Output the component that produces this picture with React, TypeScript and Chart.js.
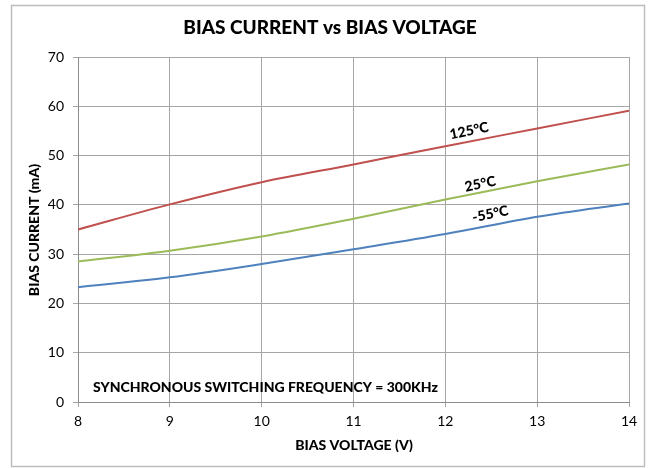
import React, { useEffect, useRef } from "react";
import { Chart, registerables } from "chart.js";

Chart.register(...registerables);

const voltages = [8, 9, 10, 11, 12, 13, 14];
const current125 = [35.0, 40.1, 44.6, 48.2, 51.9, 55.5, 59.1];
const current25 = [28.5, 30.7, 33.6, 37.2, 41.1, 44.8, 48.2];
const currentM55 = [23.3, 25.3, 28.0, 31.0, 34.1, 37.6, 40.3];
const seriesLabels = ["125°C", "25°C", "-55°C"];
const yTicks = [0, 10, 20, 30, 40, 50, 60, 70];

const FONT = "Lato, 'Open Sans', sans-serif";
const BOLD = "900";

const decorPlugin = {
  id: "decor",
  beforeDraw(chart: any) {
    const ctx = chart.ctx;
    ctx.save();
    ctx.fillStyle = "#ffffff";
    ctx.fillRect(0, 0, chart.width, chart.height);
    ctx.strokeStyle = "#bdbdbd";
    ctx.lineWidth = 1.5;
    ctx.strokeRect(11.5, 5.5, 633, 461);
    ctx.restore();
  },
  afterDraw(chart: any) {
    const ctx = chart.ctx;
    const xs = chart.scales.x;
    const ys = chart.scales.y;
    ctx.save();
    ctx.fillStyle = "#000000";
    ctx.textAlign = "center";
    ctx.textBaseline = "middle";
    ctx.font = `${BOLD} 19px ${FONT}`;
    ctx.fillText("BIAS CURRENT vs BIAS VOLTAGE", 330, 28);
    ctx.font = `${BOLD} 14px ${FONT}`;
    ctx.fillText("BIAS VOLTAGE (V)", 354, 445);
    ctx.save();
    ctx.translate(34, 230);
    ctx.rotate(-Math.PI / 2);
    ctx.fillText("BIAS CURRENT (mA)", 0, 0);
    ctx.restore();
    ctx.textAlign = "left";
    ctx.font = `${BOLD} 14px ${FONT}`;
    ctx.fillText("SYNCHRONOUS SWITCHING FREQUENCY = 300KHz", 93, 387);
    // series labels, rotated along curves
    const labelPos = [
      { v: 12.26, c: 55.0, a: -0.2 },
      { v: 12.38, c: 44.2, a: -0.2 },
      { v: 12.49, c: 38.1, a: -0.2 },
    ];
    ctx.textAlign = "center";
    ctx.font = `${BOLD} 14px ${FONT}`;
    labelPos.forEach((p, i) => {
      ctx.save();
      ctx.translate(xs.getPixelForValue(p.v), ys.getPixelForValue(p.c));
      ctx.rotate(p.a);
      ctx.fillText(seriesLabels[i], 0, 0);
      ctx.restore();
    });
    ctx.restore();
  },
};

export default function App() {
  const ref = useRef<HTMLCanvasElement | null>(null);
  useEffect(() => {
    document.body.style.margin = "0";
    const canvas = ref.current!;
    const mk = (data: number[], color: string) => ({
      data: voltages.map((v, i) => ({ x: v, y: data[i] })),
      borderColor: color,
      backgroundColor: color,
      borderWidth: 2,
      pointRadius: 0,
      cubicInterpolationMode: "monotone" as const,
      fill: false,
    });
    const chart = new Chart(canvas, {
      type: "line",
      data: {
        datasets: [
          { label: seriesLabels[0], ...mk(current125, "#C0504D") },
          { label: seriesLabels[1], ...mk(current25, "#9BBB59") },
          { label: seriesLabels[2], ...mk(currentM55, "#4F81BD") },
        ],
      },
      options: {
        responsive: false,
        animation: false,
        devicePixelRatio: 1,
        layout: { padding: { left: 0, right: 24, top: 57, bottom: 0 } },
        plugins: {
          legend: { display: false },
          title: { display: false },
          tooltip: { enabled: false },
        },
        scales: {
          x: {
            type: "linear",
            min: 8,
            max: 14,
            afterFit: (s: any) => {
              s.height = 66;
            },
            ticks: {
              stepSize: 1,
              padding: 6,
              color: "#000",
              font: { family: FONT, size: 14 },
            },
            grid: { color: "#a6a6a6", lineWidth: 1, tickLength: 5 },
            border: { color: "#8c8c8c", width: 1 },
          },
          y: {
            type: "linear",
            min: 0,
            max: 70,
            afterFit: (s: any) => {
              s.width = 78;
            },
            afterBuildTicks: (s: any) => {
              s.ticks = yTicks.map((v) => ({ value: v }));
            },
            ticks: {
              padding: 9,
              color: "#000",
              font: { family: FONT, size: 14 },
            },
            grid: { color: "#a6a6a6", lineWidth: 1, tickLength: 5 },
            border: { color: "#8c8c8c", width: 1 },
          },
        },
      },
      plugins: [decorPlugin],
    });
    return () => chart.destroy();
  }, []);
  return (
    <div style={{ width: 653, height: 468 }}>
      <canvas ref={ref} width={653} height={468} style={{ display: "block" }} />
    </div>
  );
}
